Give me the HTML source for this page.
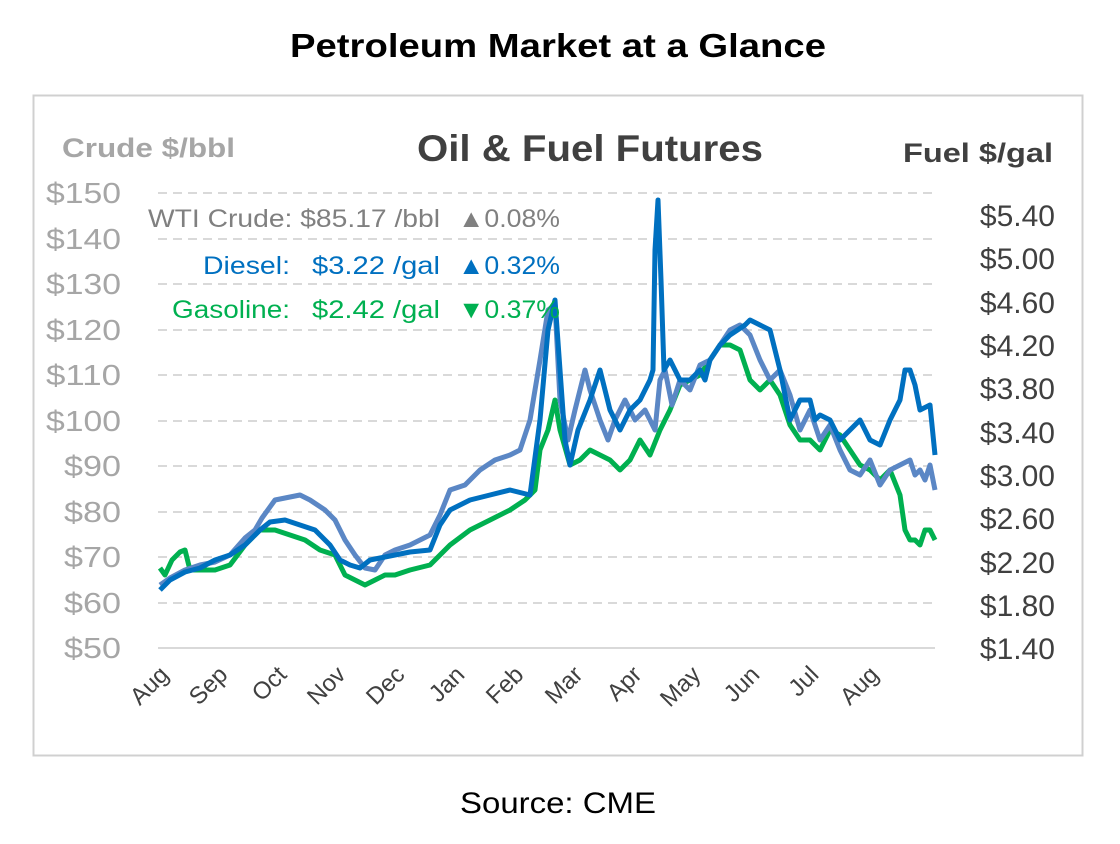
<!DOCTYPE html>
<html><head><meta charset="utf-8"><style>
body{margin:0;width:1120px;height:844px;background:#fff;overflow:hidden}
svg{display:block}
</style></head><body>
<svg width="1120" height="844" xmlns="http://www.w3.org/2000/svg" font-family="Liberation Sans, sans-serif">
<text x="558" y="57" text-anchor="middle" font-size="33" font-weight="bold" fill="#000" textLength="536" lengthAdjust="spacingAndGlyphs">Petroleum Market at a Glance</text>
<rect x="33.5" y="95.5" width="1049" height="660" fill="#fff" stroke="#d0d0d0" stroke-width="2"/>
<text x="62" y="157" font-size="27" font-weight="bold" fill="#a6a6a6" textLength="173" lengthAdjust="spacingAndGlyphs">Crude $/bbl</text>
<text x="590" y="161" text-anchor="middle" font-size="37" font-weight="bold" fill="#404040" textLength="346" lengthAdjust="spacingAndGlyphs">Oil &amp; Fuel Futures</text>
<text x="1053" y="162" text-anchor="end" font-size="27" font-weight="bold" fill="#404040" textLength="150" lengthAdjust="spacingAndGlyphs">Fuel $/gal</text>
<g stroke="#d9d9d9" stroke-width="2" stroke-dasharray="9,6">
<line x1="158" x2="935" y1="193" y2="193"/><line x1="158" x2="935" y1="239" y2="239"/><line x1="158" x2="935" y1="284" y2="284"/><line x1="158" x2="935" y1="330" y2="330"/><line x1="158" x2="935" y1="375" y2="375"/><line x1="158" x2="935" y1="421" y2="421"/><line x1="158" x2="935" y1="466" y2="466"/><line x1="158" x2="935" y1="512" y2="512"/><line x1="158" x2="935" y1="557" y2="557"/><line x1="158" x2="935" y1="603" y2="603"/>
</g>
<line x1="158" x2="935" y1="648" y2="648" stroke="#d9d9d9" stroke-width="2"/>
<g font-size="29" fill="#a6a6a6" text-anchor="end">
<text x="121" y="203" textLength="75" lengthAdjust="spacingAndGlyphs">$150</text><text x="121" y="249" textLength="75" lengthAdjust="spacingAndGlyphs">$140</text><text x="121" y="294" textLength="75" lengthAdjust="spacingAndGlyphs">$130</text><text x="121" y="340" textLength="75" lengthAdjust="spacingAndGlyphs">$120</text><text x="121" y="385" textLength="75" lengthAdjust="spacingAndGlyphs">$110</text><text x="121" y="431" textLength="75" lengthAdjust="spacingAndGlyphs">$100</text><text x="121" y="476" textLength="57" lengthAdjust="spacingAndGlyphs">$90</text><text x="121" y="522" textLength="57" lengthAdjust="spacingAndGlyphs">$80</text><text x="121" y="567" textLength="57" lengthAdjust="spacingAndGlyphs">$70</text><text x="121" y="613" textLength="57" lengthAdjust="spacingAndGlyphs">$60</text><text x="121" y="658" textLength="57" lengthAdjust="spacingAndGlyphs">$50</text>
</g>
<g font-size="30" fill="#404040" text-anchor="end">
<text x="1055" y="226">$5.40</text><text x="1055" y="269">$5.00</text><text x="1055" y="313">$4.60</text><text x="1055" y="356">$4.20</text><text x="1055" y="399">$3.80</text><text x="1055" y="443">$3.40</text><text x="1055" y="486">$3.00</text><text x="1055" y="529">$2.60</text><text x="1055" y="573">$2.20</text><text x="1055" y="616">$1.80</text><text x="1055" y="659">$1.40</text>
</g>
<g font-size="24" fill="#404040" text-anchor="end">
<text transform="translate(170,676) rotate(-45)">Aug</text><text transform="translate(229,676) rotate(-45)">Sep</text><text transform="translate(288,676) rotate(-45)">Oct</text><text transform="translate(347,676) rotate(-45)">Nov</text><text transform="translate(406,676) rotate(-45)">Dec</text><text transform="translate(466,676) rotate(-45)">Jan</text><text transform="translate(525,676) rotate(-45)">Feb</text><text transform="translate(584,676) rotate(-45)">Mar</text><text transform="translate(643,676) rotate(-45)">Apr</text><text transform="translate(702,676) rotate(-45)">May</text><text transform="translate(761,676) rotate(-45)">Jun</text><text transform="translate(820,676) rotate(-45)">Jul</text><text transform="translate(880,676) rotate(-45)">Aug</text>
</g>
<g fill="none" stroke-width="5" stroke-linejoin="round">
<polyline stroke="#00b050" points="160,568 165,575 172,560 180,552 185,550 190,570 200,570 215,570 230,565 245,545 260,530 275,530 290,535 305,540 320,550 335,555 345,575 355,580 365,585 375,580 385,575 395,575 410,570 430,565 450,545 470,530 490,520 510,510 525,500 535,490 540,450 548,430 555,400 560,430 570,465 580,460 590,450 600,455 610,460 620,470 630,460 640,440 650,455 660,430 670,410 680,385 690,380 700,375 710,360 720,345 730,345 740,350 750,380 760,390 770,380 780,395 790,425 800,440 810,440 820,450 830,430 840,435 850,450 860,465 870,470 880,480 890,470 900,495 905,530 910,540 915,540 920,545 925,530 930,530 935,540"/>
<polyline stroke="#5b87c5" points="160,585 170,578 185,570 200,565 215,562 230,555 245,538 255,530 262,518 275,500 290,497 300,495 310,500 325,510 335,520 345,540 355,555 365,568 375,570 385,555 395,550 410,545 430,535 440,515 450,490 465,485 480,470 495,460 510,455 520,450 530,420 540,360 548,310 555,305 560,400 568,440 575,410 585,370 590,390 600,420 608,440 615,420 625,400 635,420 645,410 655,430 660,380 665,370 672,405 680,380 690,390 700,365 710,360 720,345 730,330 740,325 750,335 760,360 770,380 780,370 790,395 800,430 810,410 820,440 830,425 840,450 850,470 860,475 870,460 880,485 890,470 900,465 910,460 915,475 920,470 925,480 930,465 935,490"/>
<polyline stroke="#0070c0" points="160,590 170,580 185,572 200,568 215,560 230,555 245,545 260,530 270,522 285,520 300,525 315,530 330,545 340,560 350,565 360,568 370,560 380,558 395,555 410,552 430,550 440,525 450,510 470,500 490,495 510,490 530,495 540,420 548,330 555,300 560,370 565,440 570,465 578,430 590,400 600,370 610,410 620,430 630,410 640,400 650,380 653,370 655,250 658,200 661,280 664,370 670,360 680,380 690,380 700,370 705,380 710,360 720,345 730,335 745,325 750,320 760,325 770,330 775,350 780,370 785,395 790,420 800,400 810,400 815,420 820,415 830,420 840,440 850,430 860,420 870,440 880,445 890,420 900,400 905,370 910,370 915,385 920,410 930,405 932,425 935,455"/>
</g>
<g font-size="25" text-anchor="end">
<text x="440" y="227" fill="#808080" textLength="292" lengthAdjust="spacingAndGlyphs">WTI Crude: $85.17 /bbl</text>
<text x="560" y="227" fill="#808080" textLength="102" lengthAdjust="spacingAndGlyphs">▲0.08%</text>
<text x="290" y="274" fill="#0070c0" textLength="87" lengthAdjust="spacingAndGlyphs">Diesel:</text>
<text x="440" y="274" fill="#0070c0" textLength="128" lengthAdjust="spacingAndGlyphs">$3.22 /gal</text>
<text x="560" y="274" fill="#0070c0" textLength="102" lengthAdjust="spacingAndGlyphs">▲0.32%</text>
<text x="290" y="318" fill="#00b050" textLength="118" lengthAdjust="spacingAndGlyphs">Gasoline:</text>
<text x="440" y="318" fill="#00b050" textLength="128" lengthAdjust="spacingAndGlyphs">$2.42 /gal</text>
<text x="560" y="318" fill="#00b050" textLength="102" lengthAdjust="spacingAndGlyphs">▼0.37%</text>
</g>
<text x="558" y="813" text-anchor="middle" font-size="30" fill="#000" textLength="196" lengthAdjust="spacingAndGlyphs">Source: CME</text>
</svg>
</body></html>
